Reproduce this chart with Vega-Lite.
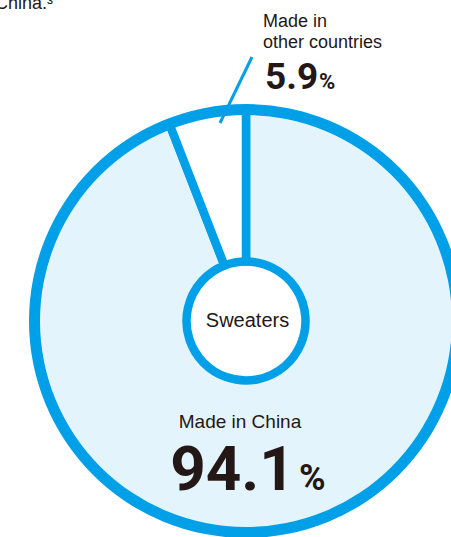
{
  "$schema": "https://vega.github.io/schema/vega-lite/v6.json",
  "width": 451,
  "height": 537,
  "padding": 0,
  "autosize": {"type": "none"},
  "background": "#ffffff",
  "config": {"view": {"stroke": null}},
  "datasets": {
    "center": [{"x": 0, "y": 0}],
    "slices": [
      {"x": 0, "y": 0, "label": "Made in China", "share": 94.1, "start": 0, "end": 94.1},
      {"x": 0, "y": 0, "label": "Made in other countries", "share": 5.9, "start": 94.1, "end": 100}
    ],
    "leader": [{"x": 3, "y": 132, "x2": -13, "y2": 99}],
    "labels": [
      {"x": 0.75, "y": -3, "text": "Sweaters", "kind": "center20"},
      {"x": -3, "y": -53.5, "text": "Made in China", "kind": "center19"},
      {"x": 8.5, "y": 147, "text": "Made in", "kind": "left18"},
      {"x": 8.5, "y": 136.5, "text": "other countries", "kind": "left18"},
      {"x": -96.5, "y": 156, "text": "China.³", "kind": "right18"},
      {"x": -6.75, "y": -84.5, "text": "94.1", "kind": "num65"},
      {"x": 26.5, "y": -84.5, "text": "%", "kind": "pct40"},
      {"x": 9.5, "y": 116, "text": "5.9", "kind": "num38"},
      {"x": 36.5, "y": 116, "text": "%", "kind": "pct24"}
    ]
  },
  "encoding": {
    "x": {"field": "x", "type": "quantitative", "scale": {"domain": [-123, 102.5], "nice": false, "zero": false}, "axis": null},
    "y": {"field": "y", "type": "quantitative", "scale": {"domain": [-108, 160.5], "nice": false, "zero": false}, "axis": null}
  },
  "layer": [
    {
      "data": {"name": "slices"},
      "mark": {"type": "arc", "innerRadius": 59.5, "outerRadius": 211, "stroke": "#00a0e9", "strokeWidth": 8.5, "strokeJoin": "round"},
      "encoding": {
        "theta": {"field": "start", "type": "quantitative", "scale": {"domain": [0, 100]}, "stack": null},
        "theta2": {"field": "end"},
        "color": {"field": "label", "type": "nominal", "scale": {"domain": ["Made in China", "Made in other countries"], "range": ["#e4f4fc", "#ffffff"]}, "legend": null}
      }
    },
    {
      "data": {"name": "center"},
      "mark": {"type": "arc", "theta": 0, "theta2": 6.2832, "innerRadius": 206, "outerRadius": 217, "color": "#00a0e9"}
    },
    {
      "data": {"name": "leader"},
      "mark": {"type": "rule", "color": "#00a0e9", "strokeWidth": 3},
      "encoding": {"x2": {"field": "x2"}, "y2": {"field": "y2"}}
    },
    {
      "data": {"name": "labels"},
      "transform": [{"filter": "datum.kind === 'center20'"}],
      "mark": {"type": "text", "font": "Liberation Sans", "fontSize": 20, "align": "center", "baseline": "alphabetic", "color": "#231815"},
      "encoding": {"text": {"field": "text"}}
    },
    {
      "data": {"name": "labels"},
      "transform": [{"filter": "datum.kind === 'center19'"}],
      "mark": {"type": "text", "font": "Liberation Sans", "fontSize": 19, "align": "center", "baseline": "alphabetic", "color": "#231815"},
      "encoding": {"text": {"field": "text"}}
    },
    {
      "data": {"name": "labels"},
      "transform": [{"filter": "datum.kind === 'left18'"}],
      "mark": {"type": "text", "font": "Liberation Sans", "fontSize": 18, "align": "left", "baseline": "alphabetic", "color": "#231815"},
      "encoding": {"text": {"field": "text"}}
    },
    {
      "data": {"name": "labels"},
      "transform": [{"filter": "datum.kind === 'right18'"}],
      "mark": {"type": "text", "font": "Liberation Sans", "fontSize": 18, "align": "right", "baseline": "alphabetic", "color": "#231815"},
      "encoding": {"text": {"field": "text"}}
    },
    {
      "data": {"name": "labels"},
      "transform": [{"filter": "datum.kind === 'num65'"}],
      "mark": {"type": "text", "font": "Roboto", "fontWeight": "bold", "fontSize": 62, "align": "center", "baseline": "alphabetic", "color": "#231815"},
      "encoding": {"text": {"field": "text"}}
    },
    {
      "data": {"name": "labels"},
      "transform": [{"filter": "datum.kind === 'pct40'"}],
      "mark": {"type": "text", "font": "Roboto", "fontWeight": "bold", "fontSize": 36, "align": "left", "baseline": "alphabetic", "color": "#231815"},
      "encoding": {"text": {"field": "text"}}
    },
    {
      "data": {"name": "labels"},
      "transform": [{"filter": "datum.kind === 'num38'"}],
      "mark": {"type": "text", "font": "Roboto", "fontWeight": "bold", "fontSize": 37, "align": "left", "baseline": "alphabetic", "color": "#231815"},
      "encoding": {"text": {"field": "text"}}
    },
    {
      "data": {"name": "labels"},
      "transform": [{"filter": "datum.kind === 'pct24'"}],
      "mark": {"type": "text", "font": "Roboto", "fontWeight": "bold", "fontSize": 22, "align": "left", "baseline": "alphabetic", "color": "#231815"},
      "encoding": {"text": {"field": "text"}}
    }
  ]
}
